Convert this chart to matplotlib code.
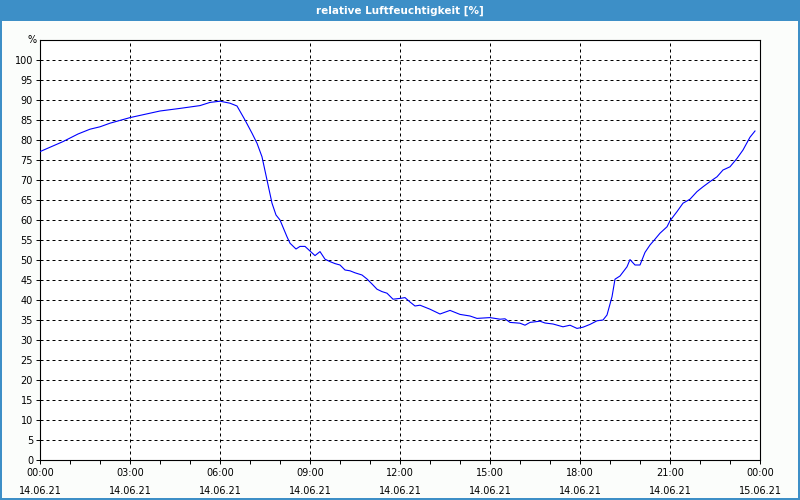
import matplotlib
matplotlib.use("Agg")
import matplotlib.pyplot as plt
from matplotlib.patches import Rectangle
from matplotlib.ticker import MultipleLocator

# minutes since 00:00 on 14.06.21, relative humidity in %
minutes = [0, 46, 76, 100, 120, 140, 180, 240, 280, 320, 340, 360, 380, 394,
           410, 424, 434, 444, 454, 464, 472, 480, 494, 500, 512, 520, 530,
           540, 550, 560, 570, 580, 590, 600, 610, 620, 630, 644, 654, 664,
           674, 684, 694, 706, 720, 730, 740, 750, 760, 780, 800, 820, 840,
           860, 874, 900, 920, 930, 940, 960, 970, 980, 1000, 1010, 1026,
           1046, 1060, 1074, 1086, 1100, 1114, 1126, 1134, 1144, 1150, 1160,
           1174, 1180, 1190, 1200, 1210, 1220, 1230, 1240, 1254, 1260, 1274,
           1286, 1300, 1314, 1326, 1340, 1354, 1366, 1380, 1394, 1406, 1420,
           1430]
humidity = [77.1, 79.6, 81.5, 82.7, 83.3, 84.2, 85.6, 87.25, 87.9, 88.6, 89.4,
            89.7, 89.2, 88.5, 85.0, 81.7, 79.2, 75.8, 70.0, 64.2, 61.25, 60.0,
            55.8, 54.2, 52.75, 53.4, 53.4, 52.25, 51.1, 52.1, 50.2, 49.6, 49.1,
            48.75, 47.5, 47.3, 46.8, 46.25, 45.25, 44.0, 42.7, 42.1, 41.7,
            40.2, 40.4, 40.6, 39.5, 38.5, 38.7, 37.7, 36.5, 37.4, 36.4, 36.0,
            35.4, 35.6, 35.2, 35.3, 34.4, 34.2, 33.7, 34.4, 34.7, 34.25, 34.0,
            33.3, 33.7, 32.9, 33.2, 33.9, 34.8, 35.0, 36.25, 40.8, 45.2, 46.0,
            48.3, 50.1, 48.75, 48.75, 51.9, 53.75, 55.2, 56.7, 58.3, 59.8,
            62.1, 64.2, 65.2, 67.1, 68.3, 69.6, 70.8, 72.5, 73.3, 75.4, 77.5,
            80.7, 82.25]

tick_hours = [0, 3, 6, 9, 12, 15, 18, 21, 24]
tick_labels = ["00:00\n14.06.21", "03:00\n14.06.21", "06:00\n14.06.21",
               "09:00\n14.06.21", "12:00\n14.06.21", "15:00\n14.06.21",
               "18:00\n14.06.21", "21:00\n14.06.21", "00:00\n15.06.21"]
title = "relative Luftfeuchtigkeit [%]"

fig = plt.figure(figsize=(8, 5), dpi=100, facecolor="#fbfdfb")

# title bar and outer frame
fig.patches.append(Rectangle((0, 0.958), 1, 0.042, transform=fig.transFigure,
                             facecolor="#3d8fc7", edgecolor="none"))
for xy, w, h in [((0, 0), 0.0025, 1), ((0.9975, 0), 0.0025, 1), ((0, 0), 1, 0.004)]:
    fig.patches.append(Rectangle(xy, w, h, transform=fig.transFigure,
                                 facecolor="#3d8fc7", edgecolor="none"))
fig.text(0.5, 0.979, title, color="white", fontsize=7.5, fontweight="bold",
         ha="center", va="center")

ax = fig.add_axes([0.05, 0.08, 0.9, 0.84])
ax.set_facecolor("white")
hours = [m / 60 for m in minutes]
ax.plot(hours, humidity, color="#0000ff", linewidth=0.8, zorder=3)

ax.set_xlim(0, 24)
ax.set_ylim(0, 105)
ax.set_xticks(tick_hours)
ax.set_xticklabels(tick_labels, fontsize=7, linespacing=2.0)
ax.xaxis.set_minor_locator(MultipleLocator(1))
ax.set_yticks(range(0, 101, 5))
ax.tick_params(axis="y", labelsize=7, length=3, width=0.7, pad=2)
ax.tick_params(axis="x", which="both", length=3, width=0.7, pad=3)
ax.text(-0.005, 105, "%", transform=ax.get_yaxis_transform(), fontsize=7,
        ha="right", va="center")
ax.grid(True, which="major", color="black", linewidth=0.72,
        linestyle=(0, (3, 3)))
for s in ax.spines.values():
    s.set_linewidth(0.8)
    s.set_color("black")

fig.savefig("out.png", dpi=100, facecolor=fig.get_facecolor())
